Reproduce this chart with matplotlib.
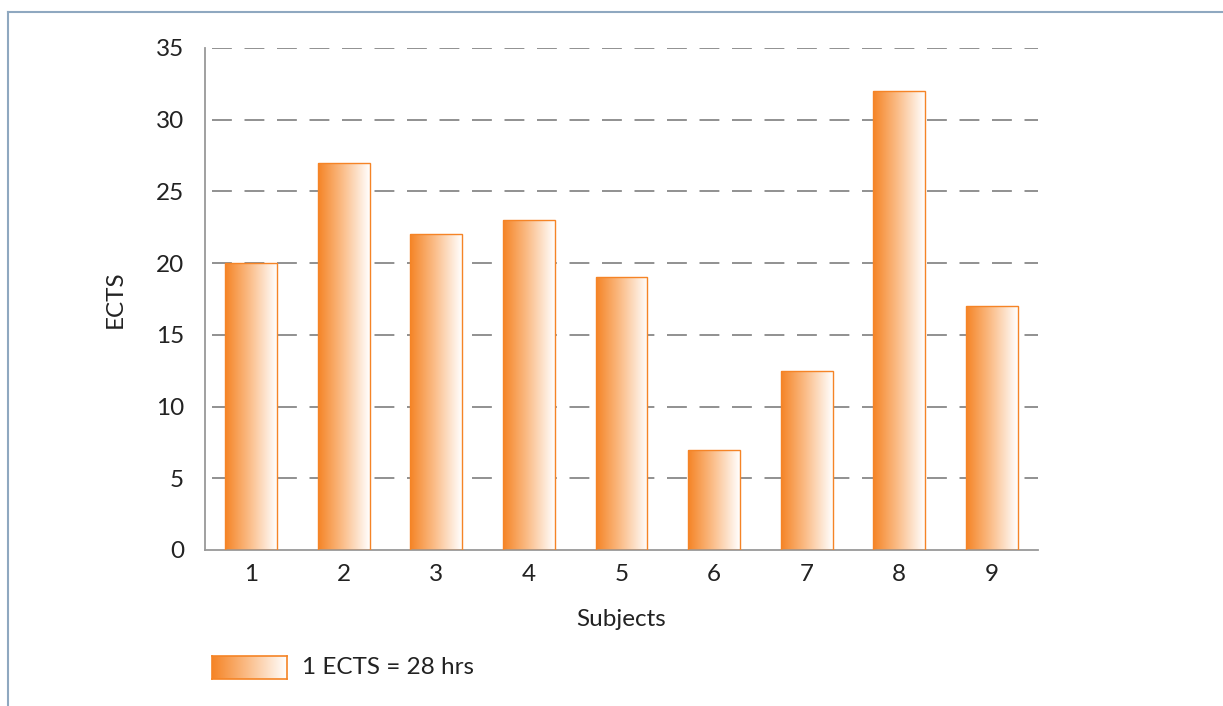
import numpy as np
import matplotlib
matplotlib.use("Agg")
import matplotlib.pyplot as plt
from matplotlib.colors import LinearSegmentedColormap
from matplotlib.lines import Line2D

subjects = [1, 2, 3, 4, 5, 6, 7, 8, 9]
ects = [20, 27, 22, 23, 19, 7, 12.5, 32, 17]
yticks = [0, 5, 10, 15, 20, 25, 30, 35]
legend_label = "1 ECTS = 28 hrs"

plt.rcParams['font.family'] = ['Lato', 'DejaVu Sans']

orange = "#F58426"
cmap = LinearSegmentedColormap.from_list("og", [orange, "#FBC08E", "#FFFFFF"])
grad = np.linspace(0, 1, 256).reshape(1, -1)

W, H = 1223, 706
fig = plt.figure(figsize=(W / 100, H / 100), dpi=100)

# outer frame lines (top and left)
fig.add_artist(Line2D([8 / W, 1], [1 - 12 / H, 1 - 12 / H], color="#8FA8C0", lw=1.5))
fig.add_artist(Line2D([8 / W, 8 / W], [0, 1 - 12 / H], color="#8FA8C0", lw=1.5))

ax = fig.add_axes([205 / W, 1 - 550 / H, (1038 - 205) / W, (550 - 48) / H])
ax.set_xlim(0.5, 9.5)
ax.set_ylim(0, 35)

bw = 0.56
bars = ax.bar(subjects, ects, width=bw, color="none", edgecolor=orange, linewidth=1.0, zorder=3)
for b in bars:
    x0, y0 = b.get_x(), b.get_y()
    w, h = b.get_width(), b.get_height()
    im = ax.imshow(grad, cmap=cmap, aspect="auto", extent=(x0, x0 + w, y0, y0 + h),
                   zorder=2, interpolation="bilinear")
    im.set_clip_path(b)
ax.set_xlim(0.5, 9.5)
ax.set_ylim(0, 35)

for y in yticks[1:]:
    ax.axhline(y, color="#888888", lw=1.3, ls=(0, (11, 7)), zorder=1, xmin=0.008)

for s in ["top", "right"]:
    ax.spines[s].set_visible(False)
for s in ["left", "bottom"]:
    ax.spines[s].set_color("#999999")
    ax.spines[s].set_linewidth(1.3)

fs = 17.5
ax.set_xticks(subjects)
ax.set_yticks(yticks)
ax.tick_params(axis="both", length=0, labelsize=fs, colors="#222222")
ax.tick_params(axis="x", pad=10)
ax.tick_params(axis="y", pad=15)

ax.set_xlabel("Subjects", fontsize=fs, color="#222222", labelpad=17)
ax.set_ylabel("ECTS", fontsize=fs, color="#222222", labelpad=22)

# legend
lax = fig.add_axes([212 / W, 1 - 679 / H, 75 / W, 23 / H])
lax.imshow(grad, cmap=cmap, aspect="auto", extent=(0, 1, 0, 1), interpolation="bilinear")
lax.set_xlim(0, 1)
lax.set_ylim(0, 1)
lax.set_xticks([])
lax.set_yticks([])
for s in lax.spines.values():
    s.set_color(orange)
    s.set_linewidth(1.2)
fig.text(302 / W, 1 - 667 / H, legend_label, fontsize=fs, color="#222222", va="center", ha="left")

fig.savefig("out.png", dpi=100)
